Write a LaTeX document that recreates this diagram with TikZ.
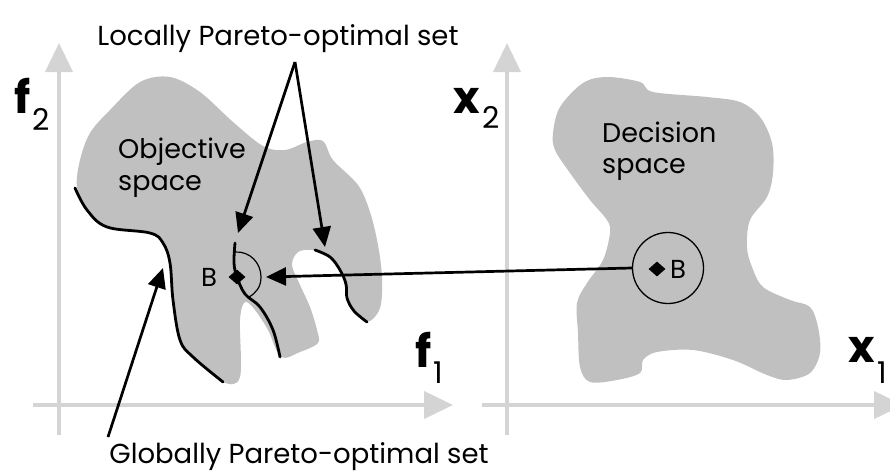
\documentclass[tikz,border=0pt]{standalone}
\usepackage{fontspec}
\setmainfont{Poppins}
\usetikzlibrary{arrows.meta,shapes.geometric}

\definecolor{regiongray}{RGB}{192,192,192}
\definecolor{axisgray}{RGB}{212,212,212}

\tikzset{
  axis/.style={axisgray, line width=4pt, -{Triangle[length=29pt,width=27pt]}},
  region/.style={fill=regiongray},
  pset/.style={line width=2.8pt, line cap=round},
  pointer/.style={line width=2.7pt, -{Triangle[length=20pt,width=18pt]}},
  txt/.style={inner sep=0pt, font=\fontsize{27.5}{32}\selectfont},
  axlab/.style={inner sep=0pt, font=\fontsize{45}{45}\selectfont\bfseries},
  bpoint/.style={diamond, fill=black, inner sep=0pt, minimum width=17pt, minimum height=15pt},
}
\newcommand{\axsub}[2][-17pt]{\raisebox{#1}{\fontsize{30}{30}\selectfont\mdseries #2}}

\begin{document}
\begin{tikzpicture}[x=1pt,y=-1pt]
    \clip (0,0) rectangle (890,474);

    % Axes
    \draw[axis] (59,435) -- (59,43);
    \draw[axis] (33,405) -- (453,405);
    \draw[axis] (507,435) -- (507,43);
    \draw[axis] (482,405) -- (903,405);

    % Axis labels
    \node[axlab, anchor=base west] (f2) at (14,113) {f\hspace{2pt}\axsub{2}};
    \node[axlab, anchor=base west] (f1) at (415,367) {f\hspace{2pt}\axsub[-16pt]{1}};
    \node[axlab, anchor=base west] (x2) at (453,113) {x\hspace{3pt}\axsub[-15pt]{2}};
    \node[axlab, anchor=base west] (x1) at (848,362) {x\hspace{3pt}\axsub[-21pt]{1}};

    % Objective space
    \fill[region] plot[smooth cycle, tension=0.55] coordinates {
        (77,187) (80,160) (90,133) (110,110) (140,82) (170,77) (200,92)
        (233,122) (263,146) (285,150) (307,142) (323,141) (333,160)
        (358,185) (370,212) (378,245) (382,278) (380,308) (367,322)
        (352,308) (346,290) (340,270) (328,256) (312,250) (298,252)
        (292,265) (300,285) (310,307) (317,330) (318,343) (300,352)
        (281,357) (268,330) (255,310) (245,302) (240,320) (240,377)
        (223,382) (193,357) (180,340) (173,300) (170,263) (163,243)
        (150,233) (107,227) (87,210)};

    % Decision space
    \fill[region] plot[smooth cycle, tension=0.55] coordinates {
        (553,133) (560,107) (583,83) (607,77) (640,82) (653,92) (707,97)
        (740,102) (760,117) (772,143) (773,173) (767,197) (750,220)
        (747,247) (752,267) (763,287) (790,300) (810,307) (818,327)
        (820,353) (810,373) (787,380) (767,375) (733,360) (693,350)
        (657,352) (643,360) (640,373) (617,380) (590,382) (580,367)
        (578,333) (577,303) (587,283) (603,260) (610,233) (607,220)
        (590,200) (570,173) (555,150)};

    % Pareto-optimal sets
    \draw[pset] plot[smooth, tension=0.6] coordinates {
        (75,188) (87,210) (107,227) (150,233) (163,243) (170,263)
        (173,300) (180,340) (193,357) (223,382)};
    \draw[pset] plot[smooth, tension=0.6] coordinates {
        (235,243) (234,263) (237,277) (245,294) (260,307) (273,330) (280,357)};
    \draw[pset] plot[smooth, tension=0.6] coordinates {
        (315,250) (330,257) (340,270) (346,284) (347,298) (354,311) (367,322)};

    % Point B and its neighbourhoods
    \node[bpoint] (bf) at (237,277) {};
    \node[txt, font=\fontsize{26}{26}\selectfont] (bflab) at (209,277) {B};
    \draw[line width=1.2pt] (235,252) .. controls (250,251) and (261,263) .. (261,277)
        .. controls (261,287) and (256,293) .. (249,297);

    \node[draw, circle, line width=1.3pt, minimum size=71pt, inner sep=0pt] (nbhd) at (668,268) {};
    \node[bpoint] (bx) at (657,269) {};
    \node[txt, font=\fontsize{26}{26}\selectfont] (bxlab) at (678,269) {B};

    % Labels
    \node[txt, anchor=base] (local) at (278,45) {Locally Pareto-optimal set};
    \node[txt, anchor=base] (global) at (299,463) {Globally Pareto-optimal set};
    \node[txt, anchor=west, align=left, font=\fontsize{27}{32}\selectfont] (objsp) at (118,168) {Objective\\space};
    \node[txt, anchor=west, align=left, font=\fontsize{27}{31}\selectfont] (decsp) at (602,151) {Decision\\space};

    % Pointers
    \coordinate (apex) at (295,62);
    \coordinate (tipl) at (238,233);
    \coordinate (tipr) at (325,247);
    \coordinate (tipb) at (266,277);
    \coordinate (gstart) at (108,437);
    \coordinate (gtip) at (163,268);
    \draw[pointer] (apex) -- (tipl);
    \draw[pointer] (apex) -- (tipr);
    \draw[pointer] (nbhd.west) -- (tipb);
    \draw[pointer] (gstart) -- (gtip);
\end{tikzpicture}
\end{document}
